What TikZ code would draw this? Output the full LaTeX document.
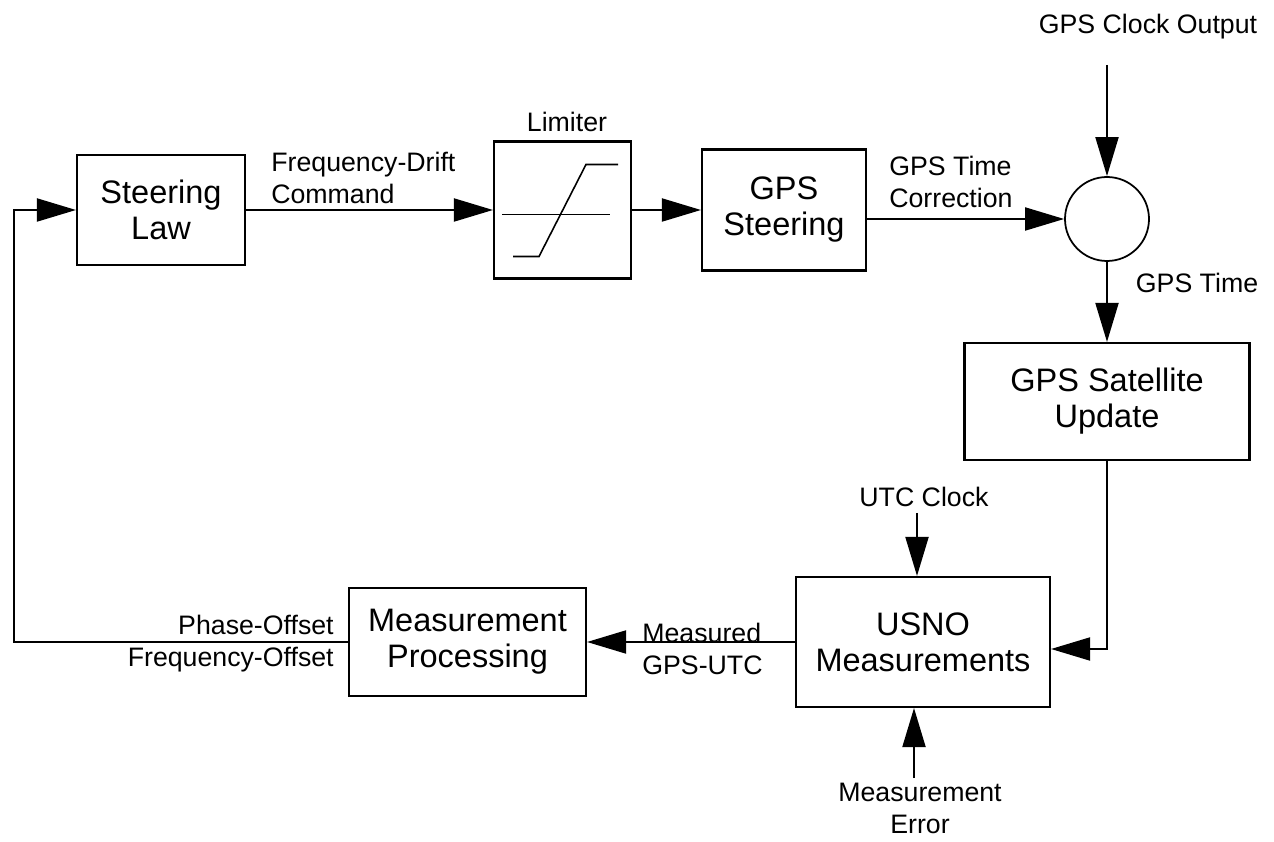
\documentclass[tikz,border=0pt]{standalone}
\usepackage{fontspec}
\setmainfont{Liberation Sans}
\usetikzlibrary{arrows.meta}

\tikzset{block/.style={draw,line width=1.2pt,inner sep=0pt,align=center,font=\fontsize{18.5}{20.5}\selectfont},
  lbl/.style={inner sep=0pt,font=\fontsize{15.2}{18.2}\selectfont},
  flow/.style={line width=1.1pt,-{Triangle[length=0.78cm,width=0.46cm]}}}

\begin{document}
\begin{tikzpicture}
        \useasboundingbox (0,0) rectangle (25.48,-16.84);
        \node[block,minimum width=3.36cm,minimum height=2.2cm] (law) at (3.22,-4.2) {Steering\\Law};
        \node[block,minimum width=2.74cm,minimum height=2.74cm] (limiter) at (11.25,-4.2) {};
        \node[block,minimum width=3.28cm,minimum height=2.42cm] (steer) at (15.68,-4.2) {GPS\\Steering};
        \node[draw,line width=1pt,circle,minimum size=1.68cm,inner sep=0pt] (sum) at (22.14,-4.38) {};
        \node[block,minimum width=5.7cm,minimum height=2.34cm] (sat) at (22.14,-8.03) {GPS Satellite\\Update};
        \node[block,minimum width=5.08cm,minimum height=2.6cm] (usno) at (18.46,-12.84) {USNO\\Measurements};
        \node[block,minimum width=4.74cm,minimum height=2.16cm] (proc) at (9.35,-12.84) {Measurement\\Processing};
        \node[lbl] (clk) at (22.96,-0.54) {GPS Clock Output};
        \node[lbl] (lim) at (11.34,-2.44) {Limiter};
        \node[lbl,anchor=west,align=left] (drift) at (5.42,-3.55) {Frequency-Drift\\Command};
        \node[lbl,anchor=west,align=left] (corr) at (17.78,-3.64) {GPS Time\\Correction};
        \node[lbl] (gpst) at (23.94,-5.66) {GPS Time};
        \node[lbl] (utc) at (18.48,-9.94) {UTC Clock};
        \node[lbl,align=center] (err) at (18.4,-16.16) {Measurement\\Error};
        \node[lbl,anchor=east,align=right] (offs) at (6.68,-12.88) {Phase-Offset\\Frequency-Offset};
        \node[lbl,anchor=west,align=left] (meas) at (12.84,-12.97) {Measured\\GPS-UTC};
        \coordinate (clkin) at (22.14,-1.3);
        \coordinate (utcin) at (18.34,-10.26);
        \coordinate (errin) at (18.28,-15.56);
        \coordinate (loop) at (0.28,-12.84);
        \draw[line width=0.9pt,shift={(limiter.center)}] (-1.21,-0.09) -- (0.95,-0.09);
        \draw[line width=0.9pt,shift={(limiter.center)}] (-0.99,-0.93) -- (-0.47,-0.93) -- (0.47,0.91) -- (1.11,0.91);
        \draw[flow] (law) -- (limiter);
        \draw[flow] (limiter) -- (steer);
        \draw[flow] (steer.east |- sum) -- (sum);
        \draw[flow] (clkin) -- (sum);
        \draw[flow] (sum) -- (sat);
        \draw[flow] (sat) |- ([yshift=-0.14cm]usno.east);
        \draw[flow] (utcin) -- (utcin |- usno.north);
        \draw[flow] (errin) -- (errin |- usno.south);
        \draw[flow] (usno) -- (proc);
        \draw[flow] (proc) -- (loop) |- (law);
    \end{tikzpicture}
\end{document}
